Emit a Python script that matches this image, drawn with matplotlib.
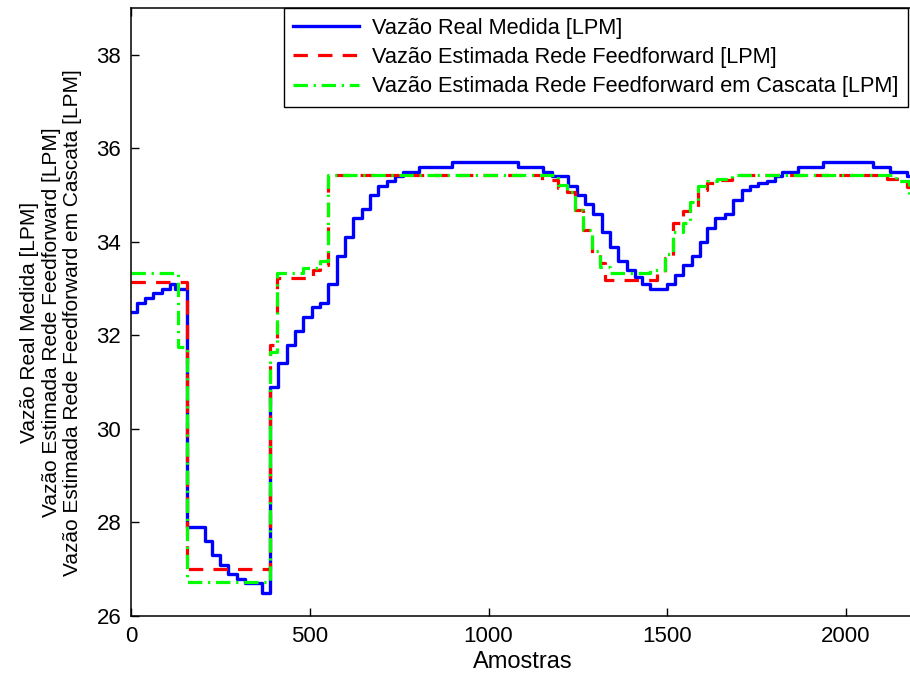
import matplotlib
matplotlib.use("Agg")
import matplotlib.pyplot as plt

plt.rcParams['font.family'] = ['Liberation Sans', 'DejaVu Sans']

# step change points (sample index) and the value held after each one
real_x = [0, 16, 39, 62, 86, 109, 123, 156, 207, 226, 249, 272, 296, 319, 366,
          389, 412, 436, 459, 482, 505, 529, 552, 575, 599, 620, 645, 669, 692,
          715, 738, 760, 806, 897, 1083, 1152, 1177, 1223, 1247, 1270, 1293,
          1317, 1340, 1363, 1387, 1410, 1429, 1452, 1498, 1522, 1545, 1568,
          1592, 1610, 1634, 1662, 1685, 1708, 1731, 1755, 1778, 1801, 1820,
          1867, 1937, 2076, 2123, 2170, 2200]
real_y = [32.5, 32.7, 32.8, 32.9, 33.0, 33.1, 33.0, 27.9, 27.6, 27.3, 27.1, 26.9,
          26.8, 26.7, 26.5, 30.9, 31.4, 31.8, 32.1, 32.4, 32.6, 32.7, 33.1, 33.7,
          34.1, 34.5, 34.7, 35.0, 35.2, 35.3, 35.4, 35.5, 35.6, 35.7, 35.6, 35.5,
          35.4, 35.2, 35.0, 34.8, 34.6, 34.2, 33.9, 33.6, 33.4, 33.25, 33.1, 33.0,
          33.1, 33.3, 33.5, 33.7, 34.0, 34.3, 34.5, 34.6, 34.9, 35.1, 35.2, 35.25,
          35.3, 35.4, 35.5, 35.6, 35.7, 35.6, 35.5, 35.4, 35.4]

ff_x = [0, 156, 389, 409, 509, 529, 552, 1150, 1195, 1219, 1242, 1265, 1289,
        1312, 1326, 1470, 1494, 1517, 1545, 1564, 1587, 1610, 1640, 1680, 2114,
        2170, 2200]
ff_y = [33.15, 27.0, 31.8, 33.22, 33.4, 33.5, 35.43, 35.33, 35.15, 35.07, 34.68,
        34.26, 33.76, 33.55, 33.19, 33.33, 33.65, 34.4, 34.65, 34.7, 35.1, 35.26,
        35.33, 35.43, 35.34, 35.18, 35.18]

cas_x = [0, 132, 156, 389, 409, 480, 529, 552, 1195, 1219, 1242, 1265, 1289,
         1312, 1340, 1452, 1494, 1517, 1545, 1564, 1587, 1610, 1640, 1680, 2140,
         2175, 2200]
cas_y = [33.33, 31.75, 26.73, 31.65, 33.33, 33.44, 33.58, 35.43, 35.22, 35.07,
         34.68, 34.26, 33.8, 33.47, 33.34, 33.4, 33.74, 34.22, 34.4, 34.85, 35.2,
         35.3, 35.35, 35.43, 35.3, 35.0, 35.0]

labels = ['Vazão Real Medida [LPM]',
          'Vazão Estimada Rede Feedforward [LPM]',
          'Vazão Estimada Rede Feedforward em Cascata [LPM]']

fig = plt.figure(figsize=(9.1, 6.75), dpi=100)
ax = fig.add_axes([131 / 910, 59 / 675, 784 / 910, 608 / 675])

ax.plot(real_x, real_y, drawstyle='steps-post', color='#0000ff', lw=2.4,
        label=labels[0])
ax.plot(ff_x, ff_y, drawstyle='steps-post', color='#ff0000', lw=2.3,
        dashes=(4.5, 3.2), label=labels[1])
ax.plot(cas_x, cas_y, drawstyle='steps-post', color='#00ff00', lw=2.3,
        dashes=(4.5, 1.8, 0.7, 1.8), label=labels[2])

ax.set_xlim(0, 2193)
ax.set_ylim(26, 39.0)
ax.set_xticks([0, 500, 1000, 1500, 2000])
ax.set_yticks([26, 28, 30, 32, 34, 36, 38])
ax.tick_params(direction='in', length=6, width=1, top=True, right=False,
               labelsize=16, pad=7)
for s in ax.spines.values():
    s.set_linewidth(1.1)

ax.set_xlabel('Amostras', fontsize=17, labelpad=3)
ax.set_ylabel('\n'.join(labels), fontsize=15, linespacing=1.18, labelpad=10)
ax.yaxis.set_label_coords(-0.062, 0.483)

leg = ax.legend(loc='upper right', bbox_to_anchor=(908 / 910, 1 - 8 / 675),
                bbox_transform=fig.transFigure, borderaxespad=0, fontsize=15.7,
                fancybox=False, framealpha=1, edgecolor='black',
                handlelength=3.0, handletextpad=0.6, labelspacing=0.38,
                borderpad=0.45)
leg.get_frame().set_linewidth(1.0)

fig.savefig('out.png', dpi=100)
